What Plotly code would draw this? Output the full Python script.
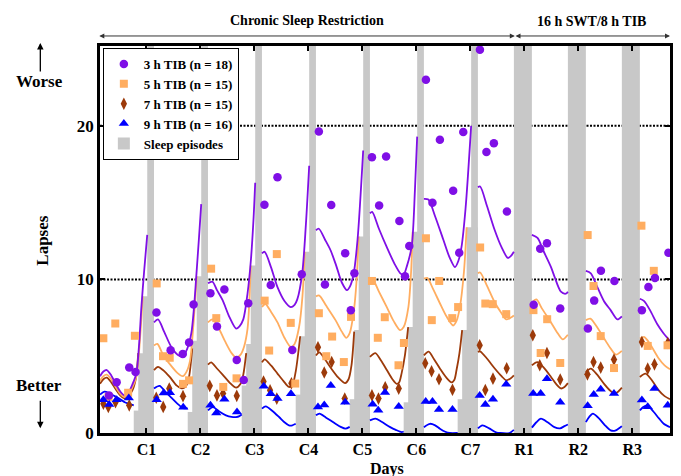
import plotly.graph_objects as go

# ---------------- axis extents (hours from wake-up after baseline night; lapses) ----
Y_MAX = 25.2
X_MAX = 253.4

# ---------------- nights -------------------------------------------------------------
night_labels = ["C1", "C2", "C3", "C4", "C5", "C6", "C7", "R1", "R2", "R3"]
night_wake_h = [24, 48, 72, 96, 120, 144, 168, 192, 216, 240]   # end of each sleep episode
restriction_tib = [3, 5, 7, 9]          # h in bed, nights C1..C7
recovery_tib = 8                        # h in bed, nights R1..R3
# visible top of each group's sleep bar on nights C1..C7 (3 h bar spans full height)
sleep_top_5h = [8.9, 10.2, 10.9, 11.8, 12.8, 13.1, 13.4]
sleep_top_7h = [5.2, 6.0, 5.8, 6.3, 6.7, 6.9, 6.7]
sleep_top_9h = [1.46, 1.37, 3.1, 2.5, 2.2, 2.0, 2.2]

# ---------------- observed lapses (time in h, value) ---------------------------------
tib3_t = [4.0, 7.4, 13.0, 15.8, 25.1, 31.4, 36.8, 39.6, 41.6, 49.1, 52.0, 55.3, 60.8, 63.9, 65.9,
          73.1, 75.9, 78.9, 85.5, 89.7, 97.3, 100.0, 102.8, 109.0, 111.5, 113.1,
          120.9, 124.1, 127.2, 133.1, 135.6, 137.5, 144.9, 147.8, 151.1, 157.0, 159.7, 161.5,
          168.9, 171.8, 175.1, 180.9, 192.8, 195.7, 198.7, 204.6, 216.9, 219.7, 222.7, 228.7,
          240.9, 243.8, 246.7, 252.7]
tib3_v = [2.45, 3.3, 4.26, 3.97, 7.85, 5.39, 5.15, 5.9, 8.37, 9.1, 6.93, 9.35, 4.76, 3.45, 8.45,
          14.87, 9.63, 16.65, 5.4, 10.33, 19.63, 9.67, 14.85, 11.7, 8.0, 10.4,
          17.96, 14.82, 18.0, 13.8, 10.2, 12.17, 23.0, 15.0, 19.1, 15.78, 11.73, 19.6,
          24.96, 18.3, 18.87, 14.42, 8.35, 12.0, 12.35, 8.1, 6.8, 8.62, 10.56, 9.9,
          8.0, 9.5, 10.1, 11.73]

tib5_t = [1.5, 3.8, 6.8, 12.5, 15.5, 25.2, 28.0, 31.0, 36.9, 39.6, 49.4, 51.7, 54.8, 60.7,
          73.2, 75.2, 78.6, 84.8, 86.8, 97.3, 100.6, 103.2, 108.4, 111.6,
          120.9, 123.5, 126.6, 132.7, 135.1, 144.9, 147.5, 150.8, 156.6, 159.2,
          169.0, 171.3, 174.6, 180.6, 192.7, 195.9, 198.8, 204.6, 216.8, 219.4, 222.6, 228.5,
          240.7, 243.5, 246.2, 252.3]
tib5_v = [6.17, 2.35, 7.13, 2.62, 6.33, 9.74, 5.0, 4.9, 3.2, 3.43, 10.7, 7.48, 3.0, 3.56,
          8.62, 5.37, 11.65, 7.17, 3.22, 7.8, 5.0, 6.28, 4.62, 7.56,
          9.9, 6.2, 7.54, 4.41, 5.86, 12.68, 7.35, 9.9, 7.48, 8.2,
          12.08, 8.43, 8.39, 7.74, 8.0, 5.21, 7.41, 4.56, 12.89, 9.57, 6.31, 4.23,
          13.5, 5.67, 10.56, 5.71]

tib7_t = [1.5, 3.7, 6.9, 13.0, 25.0, 28.1, 30.8, 36.9, 48.8, 52.0, 54.7, 60.8,
          72.7, 75.6, 78.6, 85.1, 96.9, 99.7, 103.0, 108.8, 120.9, 123.8, 126.8, 132.8,
          144.6, 147.4, 150.7, 156.7, 168.8, 171.3, 174.7, 180.8, 192.4, 195.5, 198.7, 204.6,
          216.7, 219.4, 222.6, 228.5, 240.9, 243.5, 246.5, 252.4]
tib7_v = [1.9, 1.7, 2.0, 1.8, 2.3, 1.7, 2.9, 2.4, 3.07, 2.45, 2.58, 2.42,
          3.35, 2.78, 2.24, 3.24, 5.58, 3.94, 4.62, 2.24, 2.45, 2.24, 2.98, 2.89,
          4.54, 4.02, 3.5, 2.82, 5.71, 2.8, 3.54, 4.22, 6.37, 4.41, 5.21, 3.48,
          3.82, 4.62, 4.26, 4.78, 5.93, 4.19, 4.47, 5.86]

tib9_t = [1.5, 4.1, 7.4, 12.8, 25.2, 28.3, 31.1, 37.0, 49.1, 51.7, 55.3, 60.9,
          72.8, 75.9, 78.9, 84.9, 96.9, 99.7, 102.6, 109.0, 121.2, 123.7, 126.7, 132.8,
          144.8, 147.8, 150.7, 156.7, 168.8, 171.3, 174.7, 180.6, 192.6, 195.9, 198.7, 204.6,
          216.8, 219.5, 222.6, 228.5, 240.9, 243.5, 246.5, 252.4]
tib9_v = [2.17, 1.86, 2.17, 2.28, 2.17, 2.6, 2.62, 1.67, 1.8, 1.3, 2.2, 1.37,
          3.04, 2.56, 2.24, 2.56, 1.69, 1.83, 3.1, 2.0, 1.88, 1.48, 2.63, 1.73,
          2.05, 2.05, 1.53, 1.53, 2.45, 1.86, 2.2, 3.17, 2.58, 2.58, 3.54, 2.0,
          1.77, 2.5, 2.85, 2.58, 2.15, 1.71, 2.89, 1.8]

# ---------------- model curves: per wake period, [hours after wake, lapses] ------------
model3 = [
    [[0, 3.7], [1.5, 4.0], [3, 4.1], [5, 3.75], [7, 3.2], [9, 2.7], [10.8, 2.45], [12.5, 2.6], [14.5, 3.2], [16.2, 3.9], [17.3, 5.6], [18.4, 8.2], [19.6, 10.5], [21, 12.9]],
    [[0, 7.2], [1.8, 7.4], [4.5, 6.6], [7.7, 5.6], [10.5, 5.1], [12.8, 5.0], [14.8, 5.5], [16.6, 6.5], [17.8, 8.2], [18.8, 10.2], [20, 12.7], [21, 14.9]],
    [[0, 9.75], [2, 9.85], [4, 9.3], [6.5, 8.65], [9.5, 7.56], [12.5, 6.8], [14, 6.95], [15.7, 7.4], [17.6, 9.1], [19.1, 11.3], [20.2, 13.8], [21, 16.3]],
    [[0, 11.7], [1.2, 11.8], [4, 10.8], [6.9, 9.5], [10, 8.6], [12.8, 8.2], [14.5, 8.35], [15.7, 8.7], [17.9, 10.4], [19.5, 13.5], [21, 17.4]],
    [[0, 13.2], [1.3, 13.3], [4, 12.6], [6.5, 11.9], [9, 10.9], [11.5, 9.8], [13.8, 9.3], [15.3, 9.6], [16.8, 10.4], [18.5, 12.6], [21, 18.4]],
    [[0, 14.3], [1, 14.4], [4, 13.3], [7.5, 12.1], [11, 11.0], [13.5, 10.4], [14.9, 10.3], [16.5, 10.9], [18.6, 12.2], [20, 15.8], [21, 19.3]],
    [[0, 15.25], [2, 15.2], [5, 14.1], [8.6, 12.6], [11.5, 11.4], [13.8, 10.8], [15.3, 11.2], [16.7, 12.1], [18.5, 14.6], [21, 20.0]],
    [[0, 16.0], [1, 16.05], [4, 14.8], [7.5, 13.2], [10.5, 12.1], [13.3, 11.4], [14.8, 11.55], [16, 11.8]],
    [[0, 12.9], [2.5, 12.7], [5, 11.9], [8.5, 10.8], [10, 10.2], [12.9, 9.2], [15.1, 9.07], [16, 9.2]],
    [[0, 10.55], [2.2, 10.4], [5.1, 9.5], [8, 8.6], [11, 8.0], [14, 7.4], [16, 7.6]],
    [[0, 8.74], [1.8, 8.6], [4.5, 8.0], [7.7, 7.1], [10.5, 6.5], [13.4, 6.0]],
]
model5 = [
    [[0, 3.4], [1.5, 3.7], [3, 3.8], [5, 3.5], [7, 3.0], [9, 2.55], [10.8, 2.35], [12.5, 2.5], [14.5, 3.0], [16.2, 3.7], [17.3, 5.2], [18.2, 7.0], [19, 8.9]],
    [[0, 5.7], [1.5, 5.8], [4, 5.1], [7.5, 4.4], [10.5, 3.9], [12.8, 3.7], [14.5, 4.0], [16, 4.7], [17.5, 7.0], [19, 10.2]],
    [[0, 7.2], [2, 7.4], [4.5, 6.9], [7.5, 6.0], [10.5, 5.2], [12.6, 4.9], [14.5, 5.1], [16, 5.6], [17.6, 6.8], [18.4, 8.6], [19, 10.9]],
    [[0, 8.2], [1.5, 8.4], [4, 7.9], [6.9, 7.2], [10, 6.2], [12.8, 5.6], [14.5, 5.8], [16.5, 6.9], [18, 8.9], [19, 11.8]],
    [[0, 8.9], [1.5, 8.95], [4.5, 8.3], [8.7, 7.35], [11.5, 6.6], [13.5, 6.2], [15, 6.5], [16.8, 7.9], [18, 9.8], [19, 12.8]],
    [[0, 9.95], [1.2, 10.0], [4, 9.2], [7.5, 8.2], [10.5, 7.3], [13.4, 6.7], [15, 6.9], [17.1, 8.2], [18.3, 10.5], [19, 13.1]],
    [[0, 10.05], [1.5, 10.1], [4, 9.4], [7.1, 8.45], [10, 7.6], [13, 7.0], [14.5, 7.3], [16, 8.2], [17.8, 10.5], [19, 13.4]],
    [[0, 10.4], [1, 10.45], [4, 9.6], [7.5, 8.5], [10.5, 7.8], [12.6, 7.4], [14.5, 7.5], [16, 7.65]],
    [[0, 8.5], [2, 8.7], [4.5, 8.1], [8.5, 7.2], [11, 6.6], [13.7, 6.1], [16, 6.4]],
    [[0, 7.35], [2, 7.45], [4.5, 7.0], [8.8, 6.0], [11, 5.5], [13.3, 5.1], [16, 5.35]],
    [[0, 6.15], [2, 6.25], [4.5, 5.8], [8.4, 4.85], [11, 4.4], [13.4, 4.15]],
]
model7 = [
    [[0, 3.2], [1.5, 3.5], [3, 3.6], [5, 3.3], [7, 2.85], [9, 2.45], [10.8, 2.25], [12.5, 2.35], [14.5, 2.8], [16, 3.6], [17, 5.2]],
    [[0, 4.1], [1.8, 4.3], [4, 4.1], [7, 3.65], [10, 3.1], [12.3, 2.9], [14, 3.0], [15.5, 3.6], [17, 5.5]],
    [[0, 4.45], [1.4, 4.6], [4, 4.2], [6.5, 3.8], [9.5, 3.3], [12.5, 2.95], [14.5, 3.2], [15.7, 3.8], [17, 5.2]],
    [[0, 4.6], [1.2, 4.8], [4, 4.4], [6.9, 3.87], [9.5, 3.4], [12, 3.0], [13.5, 3.1], [15, 4.0], [17, 6.3]],
    [[0, 5.05], [1.5, 5.25], [4, 4.8], [6.8, 4.2], [10, 3.6], [13, 3.25], [14.5, 3.5], [15.8, 4.4], [17, 6.6]],
    [[0, 4.95], [2.4, 5.2], [5, 4.7], [7.5, 4.1], [10, 3.5], [11.9, 3.2], [13, 3.3], [14.1, 3.9], [15.5, 5.0], [17, 6.9]],
    [[0, 5.05], [2.1, 5.3], [4.5, 4.8], [7.1, 4.2], [10, 3.6], [12.3, 3.3], [13.5, 3.45], [14.5, 4.1], [15.8, 5.2], [17, 6.7]],
    [[0, 5.28], [1, 5.32], [4, 4.85], [7.5, 4.2], [10.5, 3.7], [12.6, 3.43], [14.5, 3.55], [16, 3.75]],
    [[0, 4.41], [2.4, 4.62], [5, 4.3], [8.5, 3.65], [11, 3.15], [12.9, 2.9], [14.5, 3.0], [16, 3.25]],
    [[0, 3.97], [2.2, 4.19], [5, 3.8], [8.1, 3.2], [10.5, 2.8], [12.5, 2.56], [14, 2.65], [16, 2.95]],
    [[0, 3.65], [2.5, 3.87], [5, 3.5], [8.4, 2.78], [11, 2.4], [13.4, 2.2]],
]
model9 = [
    [[0, 2.5], [2, 2.7], [4, 2.6], [6.5, 2.4], [9, 2.2], [11, 2.0], [13, 1.9], [15, 1.8]],
    [[0, 2.9], [2.5, 3.07], [5, 2.7], [7.7, 2.3], [10.5, 1.9], [13, 1.62], [15, 1.6]],
    [[0, 1.47], [2.2, 1.69], [5, 1.4], [8, 1.15], [10.5, 1.05], [12.5, 1.04], [14, 1.1], [15, 1.2]],
    [[0, 1.59], [1.7, 1.73], [4.5, 1.45], [7.6, 1.04], [10, 0.7], [12, 0.5], [13.5, 0.5], [15, 0.6]],
    [[0, 1.15], [1.6, 1.26], [4.5, 1.0], [8.7, 0.6], [11, 0.4], [13.1, 0.28], [15, 0.4]],
    [[0, 0.82], [2.4, 0.93], [5, 0.75], [9, 0.38], [11.5, 0.2], [14.1, 0.06], [15, 0.1]],
    [[0, 0.38], [2.7, 0.6], [5, 0.5], [7.1, 0.28], [9.5, 0.08], [11.5, 0.0], [15, 0.0]],
    [[0, 0.3], [2, 0.5], [5, 0.3], [8, 0.05], [10, 0.0], [14, 0.0], [16, 0.2]],
    [[0, 0.35], [2, 0.7], [4, 0.93], [7, 0.7], [10, 0.38], [12.5, 0.3], [14.5, 0.45], [16, 0.55]],
    [[0, 0.71], [1.5, 1.05], [3.1, 1.26], [5.5, 1.0], [8.5, 0.5], [11, 0.17], [13, 0.15], [15.4, 0.38], [16, 0.45]],
    [[0, 1.47], [1.5, 1.7], [3.3, 1.8], [6, 1.4], [8.5, 0.95], [10.6, 0.6], [13.4, 0.38]],
]

# ---------------- styling ------------------------------------------------------------
C3 = "#7f0fe6"
C5 = "#ffad60"
C7 = "#9c3a0a"
C9 = "#0000ff"
GRAY = "#c8c8c8"
FONT = "Liberation Serif"


def curve_xy(days):
    xs, ys = [], []
    for d, pts in enumerate(days):
        for h, v in pts:
            xs.append(24 * d + h)
            ys.append(v)
        xs.append(None)
        ys.append(None)
    return xs, ys


# sleep-episode bars
bar_x, bar_w, bar_h = [], [], []
for i, wake in enumerate(night_wake_h):
    if i < 7:
        tops = [Y_MAX, sleep_top_5h[i], sleep_top_7h[i], sleep_top_9h[i]]
        for dur, top in zip(restriction_tib, tops):
            bar_x.append(wake - dur / 2)
            bar_w.append(dur)
            bar_h.append(top)
    else:
        bar_x.append(wake - recovery_tib / 2)
        bar_w.append(recovery_tib)
        bar_h.append(Y_MAX)

fig = go.Figure()
fig.add_trace(go.Bar(x=bar_x, y=bar_h, width=bar_w, marker=dict(color=GRAY, line=dict(width=0)),
                     name="<b>Sleep episodes</b>", legendrank=5, hoverinfo="skip"))

for days, col in [(model9, C9), (model7, C7), (model5, C5), (model3, C3)]:
    xs, ys = curve_xy(days)
    fig.add_trace(go.Scatter(x=xs, y=ys, mode="lines", line=dict(color=col, width=1.8, shape="spline", smoothing=0.8),
                             showlegend=False, hoverinfo="skip", cliponaxis=True))

fig.add_trace(go.Scatter(x=tib7_t, y=tib7_v, mode="markers", name="<b>7 h TIB (n = 15)</b>", legendrank=3,
                         marker=dict(symbol="diamond-tall", size=9, color=C7)))
fig.add_trace(go.Scatter(x=tib5_t, y=tib5_v, mode="markers", name="<b>5 h TIB (n = 15)</b>", legendrank=2,
                         marker=dict(symbol="square", size=8, color=C5)))
fig.add_trace(go.Scatter(x=tib9_t, y=tib9_v, mode="markers", name="<b>9 h TIB (n = 16)</b>", legendrank=4,
                         marker=dict(symbol="triangle-up", size=9, color=C9)))
fig.add_trace(go.Scatter(x=tib3_t, y=tib3_v, mode="markers", name="<b>3 h TIB (n = 18)</b>", legendrank=1,
                         marker=dict(symbol="circle", size=8.5, color=C3)))

shapes = []
for yv in [10, 20]:
    shapes.append(dict(type="line", xref="paper", x0=0, x1=1, yref="y", y0=yv, y1=yv,
                       line=dict(color="black", width=2, dash="2px,1.5px"), layer="below"))


def txt(text, x, y, size, angle=0):
    return dict(text=text, x=x, y=y, xref="paper", yref="paper", showarrow=False,
                xanchor="center", yanchor="middle", textangle=angle,
                font=dict(family=FONT, size=size, color="black"))


ann = []
ann.append(txt("<b>Chronic Sleep Restriction</b>", 0.363, 1.066, 14))
ann.append(txt("<b>16 h SWT/8 h TIB</b>", 0.862, 1.064, 14))
# horizontal double arrows (pixel offsets from the tip)
ann.append(dict(text="", x=0.7277, y=1.0259, xref="paper", yref="paper", ax=-417, ay=0,
                axref="pixel", ayref="pixel", showarrow=True, arrowside="end+start", arrowhead=2,
                arrowsize=1, arrowwidth=1, arrowcolor="#333", standoff=0, startstandoff=0))
ann.append(dict(text="", x=1.0, y=1.0259, xref="paper", yref="paper", ax=-156, ay=0,
                axref="pixel", ayref="pixel", showarrow=True, arrowside="end+start", arrowhead=2,
                arrowsize=1, arrowwidth=1, arrowcolor="#333", standoff=0, startstandoff=0))
# worse / better
ann.append(txt("<b>Worse</b>", -0.1065, 0.907, 17))
ann.append(txt("<b>Better</b>", -0.1065, 0.123, 17))
ann.append(dict(text="", x=-0.1047, y=1.008, xref="paper", yref="paper", ax=0, ay=30, axref="pixel", ayref="pixel",
                showarrow=True, arrowhead=2, arrowsize=1, arrowwidth=1.3, arrowcolor="black"))
ann.append(dict(text="", x=-0.1047, y=0.012, xref="paper", yref="paper", ax=0, ay=-29, axref="pixel", ayref="pixel",
                showarrow=True, arrowhead=2, arrowsize=1, arrowwidth=1.3, arrowcolor="black"))
ann.append(txt("<b>Lapses</b>", -0.101, 0.498, 17, angle=-90))
ann.append(txt("<b>Days</b>", 0.504, -0.094, 16))

tick_pos = [w - 3.35 for w in night_wake_h]

fig.update_layout(
    width=681, height=476,
    margin=dict(l=100, r=8, t=46, b=43.4),
    paper_bgcolor="white", plot_bgcolor="white",
    barmode="overlay",
    showlegend=True,
    legend=dict(x=0.005, y=0.995, xanchor="left", yanchor="top", bgcolor="white", bordercolor="black",
                borderwidth=1, font=dict(family=FONT, size=13, color="black")),
    shapes=shapes, annotations=ann,
    xaxis=dict(range=[0, X_MAX], tickvals=tick_pos, ticktext=["<b>%s</b>" % s for s in night_labels],
               ticks="inside", ticklen=5, tickwidth=2, tickcolor="black", showline=True, mirror="ticks",
               linewidth=2.5, linecolor="black", showgrid=False, zeroline=False,
               tickfont=dict(family=FONT, size=16, color="black")),
    yaxis=dict(range=[0, Y_MAX], tickvals=[0, 10, 20], ticktext=["<b>0</b>", "<b>10</b>", "<b>20</b>"],
               ticks="inside", ticklen=5, tickwidth=2, tickcolor="black", showline=True, mirror="ticks",
               linewidth=2.5, linecolor="black", showgrid=False, zeroline=False,
               tickfont=dict(family=FONT, size=17, color="black")),
)

fig.write_html("out.html")
